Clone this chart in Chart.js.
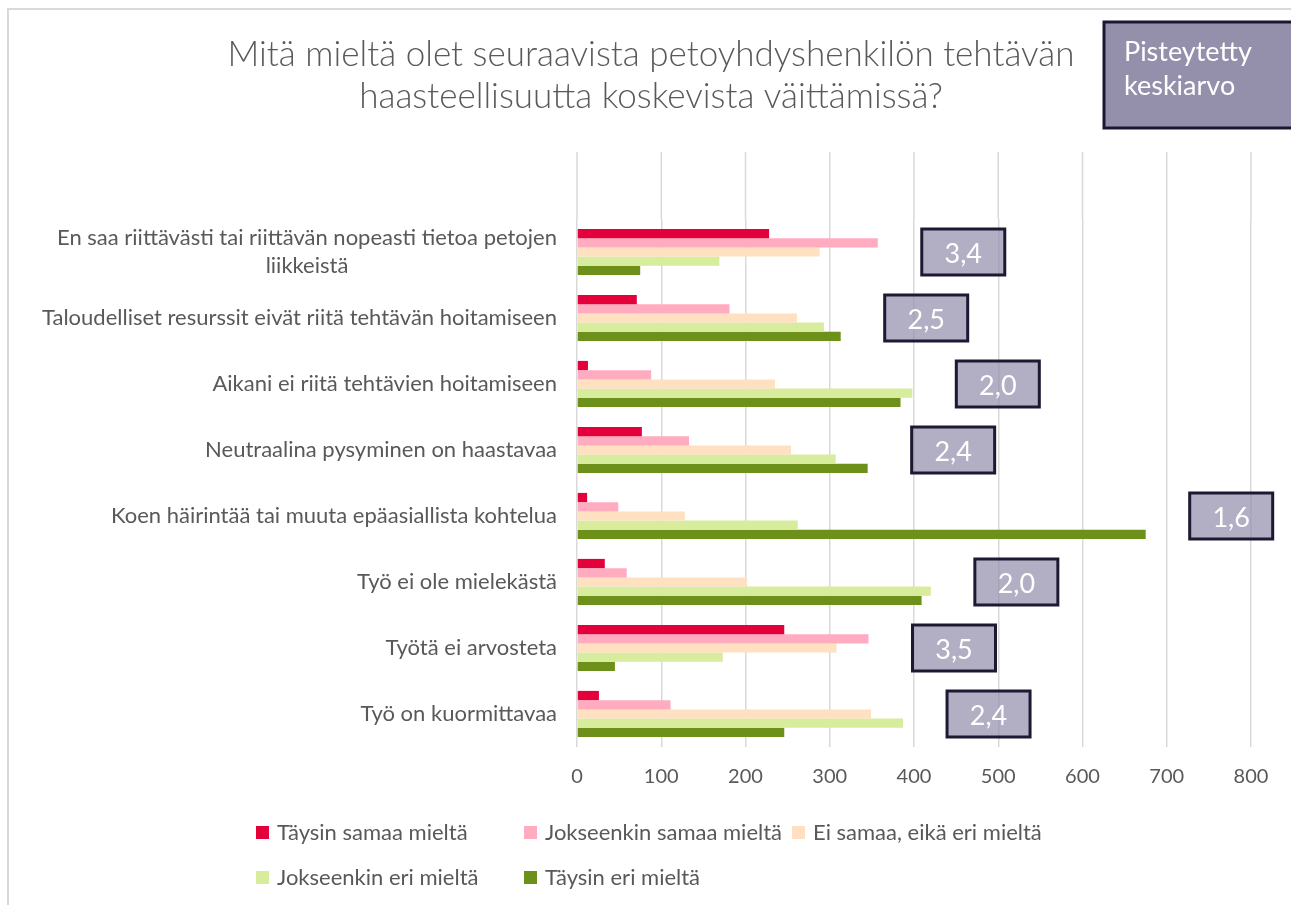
<!DOCTYPE html>
<html>
<head>
<meta charset="utf-8">
<script src="https://cdn.jsdelivr.net/npm/chart.js@4/dist/chart.umd.min.js"></script>
<style>
  html, body { margin: 0; padding: 0; background: #fff; }
  #wrap { position: relative; width: 1291px; height: 905px; overflow: hidden; }
  #frame { position: absolute; left: 7px; top: 8px; width: 1400px; height: 1000px;
           border-top: 2px solid #d9d9d9; border-left: 2px solid #d9d9d9; }
  #chart { position: absolute; left: 0; top: 0; }
</style>
</head>
<body>
<div id="wrap">
  <div id="frame"></div>
  <canvas id="chart" width="1291" height="905"></canvas>
</div>
<script>
// chart data
const titleLines = ["Mitä mieltä olet seuraavista petoyhdyshenkilön tehtävän", "haasteellisuutta koskevista väittämissä?"];
const categories = [
    ["En saa riittävästi tai riittävän nopeasti tietoa petojen", "liikkeistä"],
    "Taloudelliset resurssit eivät riitä tehtävän hoitamiseen",
    "Aikani ei riitä tehtävien hoitamiseen",
    "Neutraalina pysyminen on haastavaa",
    "Koen häirintää tai muuta epäasiallista kohtelua",
    "Työ ei ole mielekästä",
    "Työtä ei arvosteta",
    "Työ on kuormittavaa"
];
const seriesNames = ["Täysin samaa mieltä", "Jokseenkin samaa mieltä", "Ei samaa, eikä eri mieltä", "Jokseenkin eri mieltä", "Täysin eri mieltä"];
const taysinSamaa     = [228, 71, 13, 77, 12, 33, 246, 26];
const jokseenkinSamaa = [357, 181, 88, 133, 49, 59, 346, 111];
const eiSamaaEiEri    = [288, 261, 235, 254, 128, 202, 308, 349];
const jokseenkinEri   = [169, 293, 398, 307, 262, 420, 173, 387];
const taysinEri       = [75, 313, 384, 345, 675, 409, 45, 246];
const scores = [3.4, 2.5, 2.0, 2.4, 1.6, 2.0, 3.5, 2.4];
const scoreBoxLabel = ["Pisteytetty", "keskiarvo"];
const xTicks = [0, 100, 200, 300, 400, 500, 600, 700, 800];

const colors = ["#e4003a", "#ffabc0", "#ffe0c0", "#d7ec9c", "#6c901a"];
const textColor = "#595959";
const gridColor = "#d9d9d9";
const FONT = "Lato, 'Open Sans', sans-serif";

const seriesData = [taysinSamaa, jokseenkinSamaa, eiSamaaEiEri, jokseenkinEri, taysinEri];

// custom drawing: title, category labels, score boxes, legend
const decorations = {
    id: "decorations",
    beforeDatasetsDraw(chart) {
        // gridlines continue above the first category (empty band in the original)
        const ctx = chart.ctx;
        const xs = chart.scales.x;
        ctx.save();
        ctx.strokeStyle = gridColor;
        ctx.lineWidth = 1.5;
        xs.ticks.forEach(t => {
            const x = xs.getPixelForValue(t.value);
            ctx.beginPath();
            ctx.moveTo(x, 152);
            ctx.lineTo(x, chart.chartArea.top);
            ctx.stroke();
        });
        ctx.restore();
    },
    afterDraw(chart) {
        const ctx = chart.ctx;
        const xs = chart.scales.x;
        const ys = chart.scales.y;
        ctx.save();

        // title
        ctx.fillStyle = textColor;
        ctx.font = "300 35px " + FONT;
        ctx.textAlign = "center";
        ctx.textBaseline = "middle";
        ctx.fillText(titleLines[0], 651, 55);
        ctx.fillText(titleLines[1], 651, 97);

        // category labels, right aligned block, lines centred inside it
        ctx.font = "22px " + FONT;
        const right = xs.left - 20;
        categories.forEach((cat, i) => {
            const lines = Array.isArray(cat) ? cat : [cat];
            const y = ys.getPixelForValue(i);
            const w = Math.max(...lines.map(l => ctx.measureText(l).width));
            const cx = right - w / 2;
            const lh = 28;
            lines.forEach((l, k) => {
                ctx.fillText(l, cx, y + (k - (lines.length - 1) / 2) * lh);
            });
        });

        // score boxes
        categories.forEach((cat, i) => {
            const maxVal = Math.max(...seriesData.map(s => s[i]));
            const bx = xs.getPixelForValue(maxVal) + 44;
            const by = ys.getPixelForValue(i) - 23;
            ctx.fillStyle = "rgba(145,140,170,0.7)";
            ctx.fillRect(bx, by, 83, 46);
            ctx.strokeStyle = "#1c1a33";
            ctx.lineWidth = 3;
            ctx.strokeRect(bx, by, 83, 46);
            ctx.fillStyle = "#ffffff";
            ctx.font = "27px " + FONT;
            ctx.fillText(scores[i].toFixed(1).replace(".", ","), bx + 41.5, by + 25);
        });

        // "Pisteytetty keskiarvo" box
        ctx.fillStyle = "#9490ab";
        ctx.fillRect(1104, 22, 200, 106);
        ctx.strokeStyle = "#1a1830";
        ctx.lineWidth = 3;
        ctx.strokeRect(1104, 22, 200, 106);
        ctx.fillStyle = "#ffffff";
        ctx.font = "27px " + FONT;
        ctx.textAlign = "left";
        ctx.fillText(scoreBoxLabel[0], 1124, 52);
        ctx.fillText(scoreBoxLabel[1], 1124, 86);

        // legend, Excel-like grid of three columns
        ctx.font = "22px " + FONT;
        seriesNames.forEach((name, i) => {
            const col = i % 3, row = Math.floor(i / 3);
            const lx = 256 + col * 268;
            const ly = 833 + row * 45;
            ctx.fillStyle = colors[i];
            ctx.fillRect(lx, ly - 7, 13, 13);
            ctx.fillStyle = textColor;
            ctx.fillText(name, lx + 21, ly);
        });

        ctx.restore();
    }
};

new Chart(document.getElementById("chart").getContext("2d"), {
    type: "bar",
    data: {
        labels: categories,
        datasets: seriesNames.map((name, i) => ({
            label: name,
            data: seriesData[i],
            backgroundColor: colors[i],
            borderWidth: 0,
            categoryPercentage: 0.7,
            barPercentage: 1.0
        }))
    },
    options: {
        indexAxis: "y",
        responsive: false,
        animation: false,
        layout: { padding: { left: 569, right: 40, top: 219, bottom: 98 } },
        plugins: {
            legend: { display: false },
            title: { display: false },
            tooltip: { enabled: false }
        },
        scales: {
            x: {
                min: 0,
                max: 800,
                afterBuildTicks(scale) { scale.ticks = xTicks.map(v => ({ value: v })); },
                ticks: { color: textColor, font: { family: FONT, size: 20 }, padding: 18 },
                grid: { color: gridColor, lineWidth: 1.5, drawTicks: false },
                border: { display: false }
            },
            y: {
                ticks: { display: false },
                grid: { display: false },
                border: { display: false }
            }
        }
    },
    plugins: [decorations]
});
</script>
</body>
</html>
